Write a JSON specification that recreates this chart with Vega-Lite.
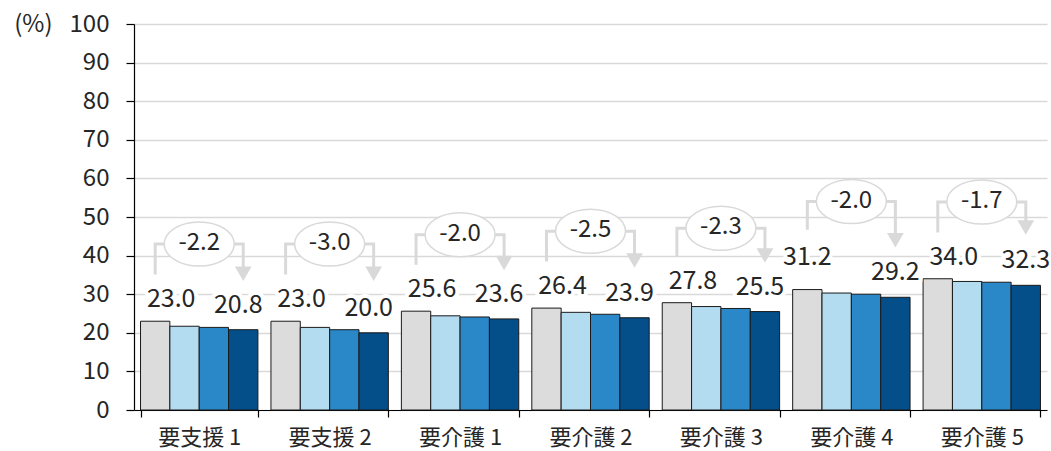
{
  "$schema": "https://vega.github.io/schema/vega-lite/v6.json",
  "width": 913,
  "height": 386,
  "autosize": "none",
  "padding": {"left": 134, "top": 24, "right": 4, "bottom": 41},
  "config": {
    "view": {"stroke": null},
    "font": "Noto Sans CJK JP",
    "axis": {"labelFont": "Noto Sans CJK JP", "titleFont": "Noto Sans CJK JP"},
    "axisY": {
      "labelOverlap": false,
      "labelFontSize": 24,
      "labelColor": "#262626",
      "labelPadding": 17,
      "domainColor": "#000000",
      "domainWidth": 1.2,
      "tickColor": "#000000",
      "tickWidth": 1.2,
      "tickSize": 8,
      "grid": true,
      "gridColor": "#D9D9D9",
      "gridWidth": 1.5
    }
  },
  "datasets": {
    "bars": [
      {"cat": "要支援 1", "s": "s1", "v": 23.0},
      {"cat": "要支援 1", "s": "s2", "v": 21.7},
      {"cat": "要支援 1", "s": "s3", "v": 21.4},
      {"cat": "要支援 1", "s": "s4", "v": 20.8},
      {"cat": "要支援 2", "s": "s1", "v": 23.0},
      {"cat": "要支援 2", "s": "s2", "v": 21.4},
      {"cat": "要支援 2", "s": "s3", "v": 20.8},
      {"cat": "要支援 2", "s": "s4", "v": 20.0},
      {"cat": "要介護 1", "s": "s1", "v": 25.6},
      {"cat": "要介護 1", "s": "s2", "v": 24.4},
      {"cat": "要介護 1", "s": "s3", "v": 24.1},
      {"cat": "要介護 1", "s": "s4", "v": 23.6},
      {"cat": "要介護 2", "s": "s1", "v": 26.4},
      {"cat": "要介護 2", "s": "s2", "v": 25.3},
      {"cat": "要介護 2", "s": "s3", "v": 24.8},
      {"cat": "要介護 2", "s": "s4", "v": 23.9},
      {"cat": "要介護 3", "s": "s1", "v": 27.8},
      {"cat": "要介護 3", "s": "s2", "v": 26.8},
      {"cat": "要介護 3", "s": "s3", "v": 26.3},
      {"cat": "要介護 3", "s": "s4", "v": 25.5},
      {"cat": "要介護 4", "s": "s1", "v": 31.2},
      {"cat": "要介護 4", "s": "s2", "v": 30.3},
      {"cat": "要介護 4", "s": "s3", "v": 30.0},
      {"cat": "要介護 4", "s": "s4", "v": 29.2},
      {"cat": "要介護 5", "s": "s1", "v": 34.0},
      {"cat": "要介護 5", "s": "s2", "v": 33.3},
      {"cat": "要介護 5", "s": "s3", "v": 33.1},
      {"cat": "要介護 5", "s": "s4", "v": 32.3}
    ],
    "brk": [
      {"cat": "要支援 1", "s": "s1", "y": 35.1, "o": 1},
      {"cat": "要支援 1", "s": "s1", "y": 43.0, "o": 2},
      {"cat": "要支援 1", "s": "s4", "y": 43.0, "o": 3},
      {"cat": "要支援 1", "s": "s4", "y": 36.5, "o": 4},
      {"cat": "要支援 2", "s": "s1", "y": 35.1, "o": 1},
      {"cat": "要支援 2", "s": "s1", "y": 43.0, "o": 2},
      {"cat": "要支援 2", "s": "s4", "y": 43.0, "o": 3},
      {"cat": "要支援 2", "s": "s4", "y": 36.5, "o": 4},
      {"cat": "要介護 1", "s": "s1", "y": 37.6, "o": 1},
      {"cat": "要介護 1", "s": "s1", "y": 45.4, "o": 2},
      {"cat": "要介護 1", "s": "s4", "y": 45.4, "o": 3},
      {"cat": "要介護 1", "s": "s4", "y": 39.3, "o": 4},
      {"cat": "要介護 2", "s": "s1", "y": 38.5, "o": 1},
      {"cat": "要介護 2", "s": "s1", "y": 46.3, "o": 2},
      {"cat": "要介護 2", "s": "s4", "y": 46.3, "o": 3},
      {"cat": "要介護 2", "s": "s4", "y": 39.9, "o": 4},
      {"cat": "要介護 3", "s": "s1", "y": 39.8, "o": 1},
      {"cat": "要介護 3", "s": "s1", "y": 47.1, "o": 2},
      {"cat": "要介護 3", "s": "s4", "y": 47.1, "o": 3},
      {"cat": "要介護 3", "s": "s4", "y": 41.2, "o": 4},
      {"cat": "要介護 4", "s": "s1", "y": 46.7, "o": 1},
      {"cat": "要介護 4", "s": "s1", "y": 54.0, "o": 2},
      {"cat": "要介護 4", "s": "s4", "y": 54.0, "o": 3},
      {"cat": "要介護 4", "s": "s4", "y": 45.2, "o": 4},
      {"cat": "要介護 5", "s": "s1", "y": 46.0, "o": 1},
      {"cat": "要介護 5", "s": "s1", "y": 53.9, "o": 2},
      {"cat": "要介護 5", "s": "s4", "y": 53.9, "o": 3},
      {"cat": "要介護 5", "s": "s4", "y": 48.5, "o": 4}
    ],
    "ann": [
      {"cat": "要支援 1", "diff": "-2.2", "top": 43.0, "arr": 35.3},
      {"cat": "要支援 2", "diff": "-3.0", "top": 43.0, "arr": 35.3},
      {"cat": "要介護 1", "diff": "-2.0", "top": 45.4, "arr": 38.1},
      {"cat": "要介護 2", "diff": "-2.5", "top": 46.3, "arr": 38.7},
      {"cat": "要介護 3", "diff": "-2.3", "top": 47.1, "arr": 40.0},
      {"cat": "要介護 4", "diff": "-2.0", "top": 54.0, "arr": 44.0},
      {"cat": "要介護 5", "diff": "-1.7", "top": 53.9, "arr": 47.3}
    ]
  },
  "encoding": {
    "x": {
      "field": "cat",
      "type": "nominal",
      "sort": ["要支援 1", "要支援 2", "要介護 1", "要介護 2", "要介護 3", "要介護 4", "要介護 5"],
      "scale": {"paddingInner": 0.1, "paddingOuter": 0.05},
      "axis": {
        "title": null,
        "labelAngle": 0,
        "labelFontSize": 22,
        "labelColor": "#262626",
        "labelPadding": 10,
        "domainColor": "#000000",
        "domainWidth": 1.2,
        "tickColor": "#000000",
        "tickWidth": 1.2,
        "tickSize": 7,
        "tickBand": "extent",
        "grid": false
      }
    }
  },
  "layer": [
    {
      "data": {"name": "bars"},
      "mark": {"type": "bar", "stroke": "#1a1a1a", "strokeWidth": 1},
      "encoding": {
        "xOffset": {"field": "s", "type": "nominal", "scale": {"domain": ["s1", "s2", "s3", "s4"], "paddingInner": 0, "paddingOuter": 0}},
        "y": {
          "field": "v",
          "type": "quantitative",
          "scale": {"domain": [0, 100], "nice": false},
          "axis": {
            "values": [0, 10, 20, 30, 40, 50, 60, 70, 80, 90, 100],
            "tickCount": 20,
            "labelOverlap": false,
            "title": "(%)",
            "titleAngle": 0,
            "titleAlign": "right",
            "titleBaseline": "middle",
            "titleX": -82,
            "titleY": 0,
            "titleFontSize": 24,
            "titleFontWeight": "normal",
            "titleColor": "#262626"
          }
        },
        "color": {
          "field": "s",
          "type": "nominal",
          "legend": null,
          "scale": {"domain": ["s1", "s2", "s3", "s4"], "range": ["#DCDCDC", "#B4DCF0", "#2A88C8", "#044E8A"]}
        }
      }
    },
    {
      "data": {"name": "brk"},
      "mark": {"type": "line", "stroke": "#D9D9D9", "strokeWidth": 3, "strokeJoin": "miter"},
      "encoding": {
        "xOffset": {"field": "s", "type": "nominal"},
        "y": {"field": "y", "type": "quantitative"},
        "detail": {"field": "cat"},
        "order": {"field": "o", "type": "quantitative"}
      }
    },
    {
      "data": {"name": "ann"},
      "mark": {"type": "point", "shape": "triangle-down", "size": 280, "filled": true, "fill": "#D9D9D9", "opacity": 1, "strokeWidth": 0},
      "encoding": {
        "xOffset": {"datum": "s4"},
        "y": {"field": "arr", "type": "quantitative"}
      }
    },
    {
      "data": {"name": "ann"},
      "mark": {"type": "point", "shape": "M-1,0A1,0.63 0 1,0 1,0A1,0.63 0 1,0 -1,0Z", "size": 4900, "filled": true, "fill": "#FFFFFF", "stroke": "#D9D9D9", "strokeWidth": 1.5, "opacity": 1},
      "encoding": {
        "y": {"field": "top", "type": "quantitative"}
      }
    },
    {
      "data": {"name": "ann"},
      "mark": {"type": "text", "fontSize": 24, "color": "#262626", "baseline": "middle", "dy": -1},
      "encoding": {
        "y": {"field": "top", "type": "quantitative"},
        "text": {"field": "diff"}
      }
    },
    {
      "data": {"name": "bars"},
      "transform": [{"filter": "datum.s == 's1' && datum.cat != '要介護 4'"}],
      "mark": {"type": "text", "fontSize": 25, "color": "#FFFFFF", "stroke": "#FFFFFF", "strokeWidth": 8, "strokeJoin": "round", "baseline": "middle", "dx": 16, "dy": -22},
      "encoding": {
        "xOffset": {"field": "s", "type": "nominal"},
        "y": {"field": "v", "type": "quantitative"},
        "text": {"field": "v", "type": "quantitative", "format": ".1f"}
      }
    },
    {
      "data": {"name": "bars"},
      "transform": [{"filter": "datum.s == 's1' && datum.cat == '要介護 4'"}],
      "mark": {"type": "text", "fontSize": 25, "color": "#FFFFFF", "stroke": "#FFFFFF", "strokeWidth": 8, "strokeJoin": "round", "baseline": "middle", "dx": 0, "dy": -33},
      "encoding": {
        "xOffset": {"field": "s", "type": "nominal"},
        "y": {"field": "v", "type": "quantitative"},
        "text": {"field": "v", "type": "quantitative", "format": ".1f"}
      }
    },
    {
      "data": {"name": "bars"},
      "transform": [{"filter": "datum.s == 's4' && datum.cat != '要介護 4' && datum.cat != '要介護 5'"}],
      "mark": {"type": "text", "fontSize": 25, "color": "#FFFFFF", "stroke": "#FFFFFF", "strokeWidth": 8, "strokeJoin": "round", "baseline": "middle", "dx": -5, "dy": -25},
      "encoding": {
        "xOffset": {"field": "s", "type": "nominal"},
        "y": {"field": "v", "type": "quantitative"},
        "text": {"field": "v", "type": "quantitative", "format": ".1f"}
      }
    },
    {
      "data": {"name": "bars"},
      "transform": [{"filter": "datum.s == 's4' && (datum.cat == '要介護 4' || datum.cat == '要介護 5')"}],
      "mark": {"type": "text", "fontSize": 25, "color": "#FFFFFF", "stroke": "#FFFFFF", "strokeWidth": 8, "strokeJoin": "round", "baseline": "middle", "dx": 0, "dy": -25},
      "encoding": {
        "xOffset": {"field": "s", "type": "nominal"},
        "y": {"field": "v", "type": "quantitative"},
        "text": {"field": "v", "type": "quantitative", "format": ".1f"}
      }
    },
    {
      "data": {"name": "bars"},
      "transform": [{"filter": "datum.s == 's1' && datum.cat != '要介護 4'"}],
      "mark": {"type": "text", "fontSize": 25, "color": "#262626", "baseline": "middle", "dx": 16, "dy": -22},
      "encoding": {
        "xOffset": {"field": "s", "type": "nominal"},
        "y": {"field": "v", "type": "quantitative"},
        "text": {"field": "v", "type": "quantitative", "format": ".1f"}
      }
    },
    {
      "data": {"name": "bars"},
      "transform": [{"filter": "datum.s == 's1' && datum.cat == '要介護 4'"}],
      "mark": {"type": "text", "fontSize": 25, "color": "#262626", "baseline": "middle", "dx": 0, "dy": -33},
      "encoding": {
        "xOffset": {"field": "s", "type": "nominal"},
        "y": {"field": "v", "type": "quantitative"},
        "text": {"field": "v", "type": "quantitative", "format": ".1f"}
      }
    },
    {
      "data": {"name": "bars"},
      "transform": [{"filter": "datum.s == 's4' && datum.cat != '要介護 4' && datum.cat != '要介護 5'"}],
      "mark": {"type": "text", "fontSize": 25, "color": "#262626", "baseline": "middle", "dx": -5, "dy": -25},
      "encoding": {
        "xOffset": {"field": "s", "type": "nominal"},
        "y": {"field": "v", "type": "quantitative"},
        "text": {"field": "v", "type": "quantitative", "format": ".1f"}
      }
    },
    {
      "data": {"name": "bars"},
      "transform": [{"filter": "datum.s == 's4' && (datum.cat == '要介護 4' || datum.cat == '要介護 5')"}],
      "mark": {"type": "text", "fontSize": 25, "color": "#262626", "baseline": "middle", "dx": 0, "dy": -25},
      "encoding": {
        "xOffset": {"field": "s", "type": "nominal"},
        "y": {"field": "v", "type": "quantitative"},
        "text": {"field": "v", "type": "quantitative", "format": ".1f"}
      }
    }
  ]
}
